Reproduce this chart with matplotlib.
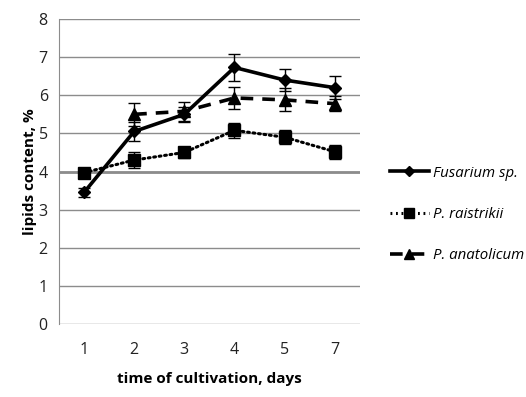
import matplotlib
matplotlib.use("Agg")
import matplotlib.pyplot as plt
from matplotlib.lines import Line2D

days = ["1", "2", "3", "4", "5", "7"]
fusarium = [3.45, 5.05, 5.5, 6.73, 6.4, 6.2]
fusarium_err = [0.12, 0.25, 0.2, 0.35, 0.3, 0.3]
raistrikii = [3.97, 4.3, 4.5, 5.08, 4.9, 4.52]
raistrikii_err = [0.1, 0.2, 0.15, 0.2, 0.18, 0.18]
anat_days = ["2", "3", "4", "5", "7"]
anatolicum = [5.5, 5.58, 5.93, 5.88, 5.78]
anatolicum_err = [0.3, 0.25, 0.3, 0.3, 0.2]
series_names = ["Fusarium sp.", "P. raistrikii", "P. anatolicum"]

plt.rcParams['font.family'] = ['Open Sans', 'DejaVu Sans']

fig = plt.figure(figsize=(5.26, 3.97), dpi=100)
ax = fig.add_axes([0.112, 0.184, 0.572, 0.768])

pos = {d: i for i, d in enumerate(days)}
x_all = [pos[d] for d in days]
x_an = [pos[d] for d in anat_days]

ekw = dict(ecolor='black', elinewidth=1.0, capsize=4, capthick=1.0, zorder=3)
ax.errorbar(x_all, fusarium, yerr=fusarium_err, color='black', lw=2.6,
            ls='-', marker='D', ms=6, **ekw)
ax.errorbar(x_all, raistrikii, yerr=raistrikii_err, color='black', lw=2.2,
            ls=(0, (0.6, 1.2)), marker='s', ms=8, dash_capstyle='round', **ekw)
ax.errorbar(x_an, anatolicum, yerr=anatolicum_err, color='black', lw=2.6,
            ls=(0, (3.5, 2.5)), marker='^', ms=8, **ekw)

ax.set_xlim(-0.5, len(days) - 0.5)
ax.set_ylim(0, 8)
ax.set_yticks(range(0, 9))
ax.set_xticks(x_all)
ax.set_xticklabels(days)
ax.yaxis.grid(True, color='#8c8c8c', lw=1.0)
ax.axhline(4, color='#8c8c8c', lw=2.0, zorder=1)
ax.set_axisbelow(True)
for s in ['top', 'right', 'bottom']:
    ax.spines[s].set_visible(False)
ax.spines['left'].set_color('#8c8c8c')
ax.tick_params(axis='both', length=0, labelsize=11.5, pad=8, labelcolor='#222222')
ax.tick_params(axis='x', pad=13)
ax.set_ylabel("lipids content, %", fontsize=11, fontweight='bold', labelpad=1)
ax.set_xlabel("time of cultivation, days", fontsize=11, fontweight='bold', labelpad=10)

handles = [
    Line2D([], [], color='black', lw=2.6, ls='-', marker='D', ms=5),
    Line2D([], [], color='black', lw=2.2, ls=(0, (0.6, 1.2)), marker='s', ms=7),
    Line2D([], [], color='black', lw=2.6, ls=(0, (3.5, 2.5)), marker='^', ms=7),
]
leg = fig.legend(handles, series_names, loc='center left',
                 bbox_to_anchor=(0.715, 0.46), frameon=False,
                 prop={'style': 'italic', 'size': 10.8},
                 handlelength=2.6, handletextpad=0.3, labelspacing=1.75)

fig.savefig("out.png", dpi=100)
